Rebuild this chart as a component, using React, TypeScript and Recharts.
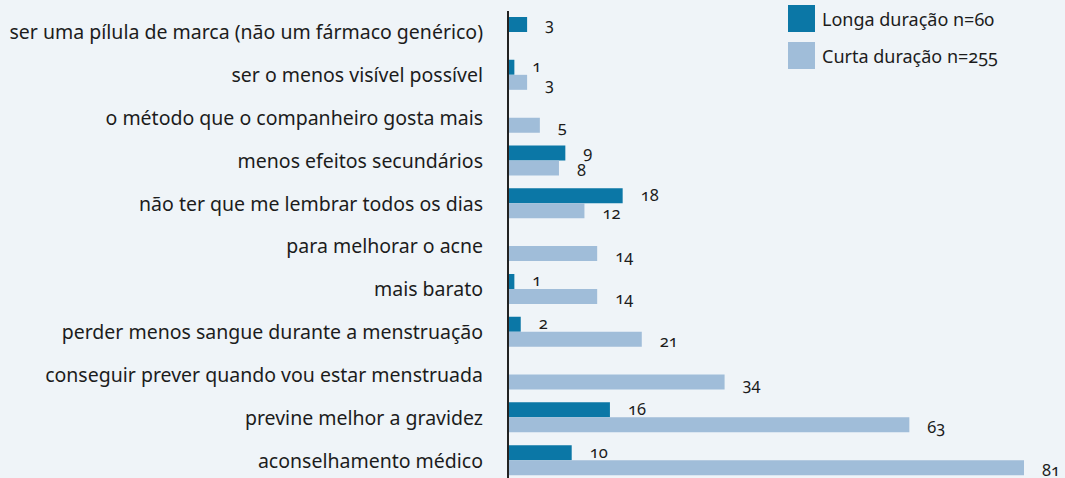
import React from "react";
import { BarChart, Bar, XAxis, YAxis, LabelList } from "recharts";

const categories = [
  "ser uma pílula de marca (não um fármaco genérico)",
  "ser o menos visível possível",
  "o método que o companheiro gosta mais",
  "menos efeitos secundários",
  "não ter que me lembrar todos os dias",
  "para melhorar o acne",
  "mais barato",
  "perder menos sangue durante a menstruação",
  "conseguir prever quando vou estar menstruada",
  "previne melhor a gravidez",
  "aconselhamento médico",
];

const longa = [3, 1, null, 9, 18, null, 1, 2, null, 16, 10];
const curta = [null, 3, 5, 8, 12, 14, 14, 21, 34, 63, 81];

const seriesNames = ["Longa duração n=60", "Curta duração n=255"];
const seriesColors = ["#0b77a6", "#a0bdd9"];

const data = categories.map((name, i) => ({ name, longa: longa[i], curta: curta[i] }));

const FONT = '"Noto Sans", "Open Sans", sans-serif';
const TEXT = "#1c1c1c";

// dy nudges the dark labels up and the light ones down a little so they don't collide
const ValueLabel = (props: any) => {
  const { x, y, width, height, value, dy = 0 } = props;
  if (value === null || value === undefined) return null;
  return (
    <text
      x={x + width + 18}
      y={y + height / 2 + dy}
      dominantBaseline="central"
      fontSize={16.5}
      fill={TEXT}
      fontFamily={FONT}
      style={{ fontFeatureSettings: '"onum"' }}
    >
      {value}
    </text>
  );
};

const LegendBox = () => (
  <div
    style={{
      position: "absolute",
      top: 5,
      left: 788,
      fontFamily: FONT,
      fontSize: 18,
      color: TEXT,
      fontFeatureSettings: '"onum"',
    }}
  >
    {seriesNames.map((n, i) => (
      <div key={n} style={{ display: "flex", alignItems: "center", height: 27, marginBottom: 10 }}>
        <div style={{ width: 27, height: 27, background: seriesColors[i], marginRight: 7 }} />
        <span>{n}</span>
      </div>
    ))}
  </div>
);

export default function App() {
  return (
    <div
      style={{
        position: "absolute",
        left: 0,
        top: 0,
        width: 1065,
        height: 478,
        overflow: "hidden",
        background: "#eff4f8",
      }}
    >
      <BarChart
        width={1065}
        height={490}
        data={data}
        layout="vertical"
        margin={{ top: 11, right: 41, bottom: 8, left: 0 }}
        barGap={0}
        barSize={15}
      >
        <XAxis type="number" domain={[0, 81]} hide />
        <YAxis
          type="category"
          dataKey="name"
          width={508}
          tickSize={0}
          tickMargin={25}
          axisLine={{ stroke: "#222", strokeWidth: 2 }}
          tickLine={false}
          tick={{ fill: TEXT, fontSize: 19.5, fontFamily: FONT }}
          interval={0}
        />
        <Bar dataKey="longa" name={seriesNames[0]} fill={seriesColors[0]} isAnimationActive={false}>
          <LabelList dataKey="longa" content={<ValueLabel dy={-1.5} />} />
        </Bar>
        <Bar dataKey="curta" name={seriesNames[1]} fill={seriesColors[1]} isAnimationActive={false}>
          <LabelList dataKey="curta" content={<ValueLabel dy={1.5} />} />
        </Bar>
      </BarChart>
      <LegendBox />
    </div>
  );
}
